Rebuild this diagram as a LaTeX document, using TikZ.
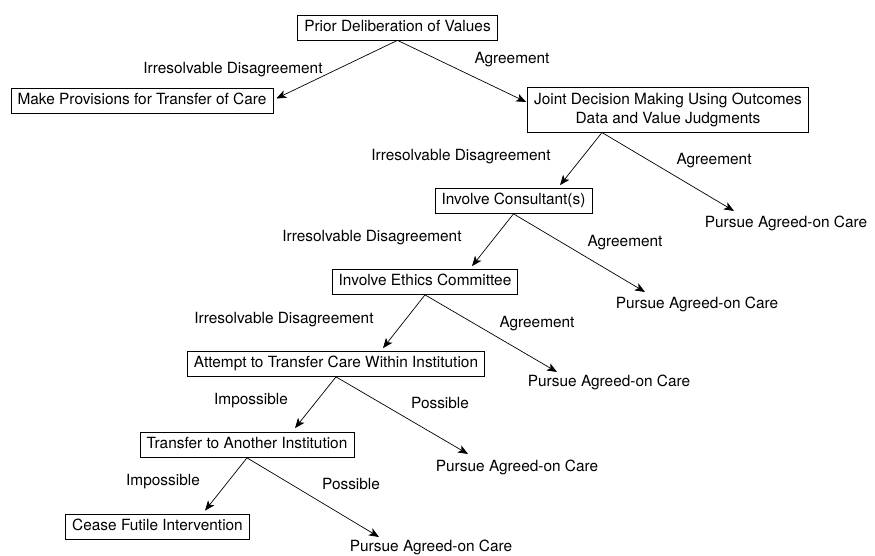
\documentclass[tikz,border=0pt]{standalone}
\usepackage{fontspec}
\setmainfont{TeX Gyre Heros}
\usetikzlibrary{arrows.meta}
\begin{document}
\begin{tikzpicture}[x=1pt,y=-1pt,
  every node/.style={font=\fontsize{15.4}{19}\selectfont},
  box/.style={draw, line width=0.7pt, inner xsep=6.5pt, inner ysep=5.25pt, text height=11pt, text depth=3.5pt},
  bigbox/.style={draw, line width=0.7pt, inner xsep=6.5pt, inner ysep=5.25pt, align=center, minimum height=44pt},
  lbl/.style={inner sep=0pt, text height=11pt, text depth=3.5pt},
  arr/.style={line width=0.7pt, -{Stealth[length=10pt,width=8pt,inset=2.5pt]}}
]
\useasboundingbox (0,0) rectangle (875,556);

% boxes
\node[box] (prior) at (397.5,27.5) {Prior Deliberation of Values};
\node[box] (make) at (142,100.5) {Make Provisions for Transfer of Care};
\node[bigbox] (joint) at (668,110) {Joint Decision Making Using Outcomes\\Data and Value Judgments};
\node[box] (cons) at (513.5,201) {Involve Consultant(s)};
\node[box] (ethics) at (425,282) {Involve Ethics Committee};
\node[box] (attempt) at (336,364) {Attempt to Transfer Care Within Institution};
\node[box] (transfer) at (247,445) {Transfer to Another Institution};
\node[box] (cease) at (157.5,526.5) {Cease Futile Intervention};

% outcome texts
\node[lbl] (p1) at (786,224) {Pursue Agreed-on Care};
\node[lbl] (p2) at (697,305) {Pursue Agreed-on Care};
\node[lbl] (p3) at (609,383) {Pursue Agreed-on Care};
\node[lbl] (p4) at (517,468) {Pursue Agreed-on Care};
\node[lbl] (p5) at (431,548) {Pursue Agreed-on Care};

% edge labels
\node[lbl] (l1) at (233,70) {Irresolvable Disagreement};
\node[lbl] (l2) at (512,60) {Agreement};
\node[lbl] (l3) at (461,157) {Irresolvable Disagreement};
\node[lbl] (l4) at (714,161) {Agreement};
\node[lbl] (l5) at (372,238) {Irresolvable Disagreement};
\node[lbl] (l6) at (625,243) {Agreement};
\node[lbl] (l7) at (284,320) {Irresolvable Disagreement};
\node[lbl] (l8) at (537,324) {Agreement};
\node[lbl] (l9) at (251,401) {Impossible};
\node[lbl] (l10) at (440,405) {Possible};
\node[lbl] (l11) at (163,482) {Impossible};
\node[lbl] (l12) at (351,486) {Possible};

% connectors
\draw[arr] (prior.south) -- ([shift={(3,-2)}]make.east);
\draw[arr] (prior.south) -- ([shift={(-1,-8)}]joint.west);
\draw[arr] ([xshift=-66pt]joint.south) -- ([shift={(46.5,-3)}]cons.north);
\draw[arr] ([xshift=-66pt]joint.south) -- ([shift={(-52,-13)}]p1.center);
\draw[arr] (cons.south) -- ([shift={(47,-3)}]ethics.north);
\draw[arr] (cons.south) -- ([shift={(-52,-13)}]p2.center);
\draw[arr] (ethics.south) -- ([shift={(47,-3)}]attempt.north);
\draw[arr] (ethics.south) -- ([shift={(-52,-11)}]p3.center);
\draw[arr] (attempt.south) -- ([shift={(48,-4)}]transfer.north);
\draw[arr] (attempt.south) -- ([shift={(-49,-14)}]p4.center);
\draw[arr] (transfer.south) -- ([shift={(47.5,-3)}]cease.north);
\draw[arr] (transfer.south) -- ([shift={(-52,-11)}]p5.center);
\end{tikzpicture}
\end{document}
